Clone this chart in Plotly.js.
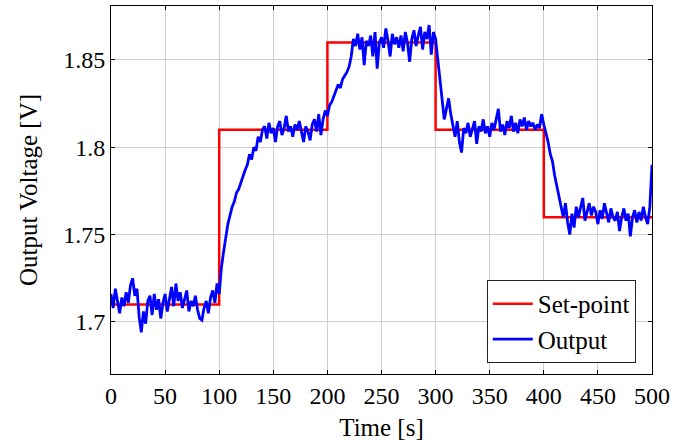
<!DOCTYPE html>
<html>
<head>
<meta charset="utf-8">
<script src="https://cdn.plot.ly/plotly-3.0.1.min.js"></script>
<style>html,body{margin:0;padding:0;background:#fff;}#chart{width:699px;height:444px;}</style>
</head>
<body>
<div id="chart"></div>
<script>
// Set-point steps (time in s, voltage in V)
var setpointTime = [0, 100, 200, 300, 400, 500];
var setpointVolt = [1.71, 1.81, 1.86, 1.81, 1.76, 1.76];

// Measured output, sampled every 2 s from 0 to 500 s
var sampleStep = 2;
var outputVolt = [
  1.716, 1.708, 1.719, 1.712, 1.705, 1.714, 1.709, 1.717, 1.711, 1.721,
  1.725, 1.715, 1.719, 1.703, 1.694, 1.706, 1.699, 1.712, 1.715, 1.704,
  1.716, 1.707, 1.713, 1.702, 1.711, 1.716, 1.706, 1.713, 1.720, 1.709,
  1.722, 1.712, 1.717, 1.708, 1.714, 1.718, 1.706, 1.712, 1.709, 1.715,
  1.707, 1.702, 1.701, 1.708, 1.712, 1.705, 1.714, 1.718, 1.711, 1.722,
  1.716,
  1.731, 1.740, 1.748, 1.756, 1.761, 1.766, 1.769, 1.774, 1.776, 1.780,
  1.783, 1.787, 1.790, 1.796, 1.793, 1.800, 1.798, 1.806, 1.803, 1.810,
  1.812, 1.805, 1.814, 1.808, 1.811, 1.803, 1.812, 1.815, 1.807, 1.811,
  1.818, 1.809, 1.812, 1.806, 1.813, 1.810, 1.815, 1.808, 1.803, 1.812,
  1.809, 1.804, 1.813, 1.816, 1.809, 1.819, 1.807, 1.816, 1.821,
  1.818, 1.824, 1.826, 1.829, 1.832, 1.836, 1.834, 1.839, 1.841, 1.843,
  1.846, 1.852, 1.862, 1.858, 1.865, 1.856, 1.863, 1.847, 1.861, 1.858,
  1.864, 1.852, 1.866, 1.845, 1.860, 1.863, 1.857, 1.868, 1.861, 1.852,
  1.865, 1.859, 1.863, 1.857, 1.864, 1.855, 1.866, 1.860, 1.849, 1.862,
  1.867, 1.858, 1.864, 1.869, 1.856, 1.866, 1.862, 1.870, 1.853, 1.866,
  1.862, 1.850, 1.840, 1.828, 1.816, 1.822, 1.828, 1.819, 1.812, 1.806,
  1.815, 1.803, 1.797, 1.811, 1.808, 1.814, 1.806, 1.811, 1.815, 1.802,
  1.812, 1.809, 1.816, 1.808, 1.812, 1.806, 1.814, 1.810, 1.817, 1.822,
  1.809, 1.813, 1.807, 1.815, 1.811, 1.818, 1.809, 1.814, 1.808, 1.816,
  1.812, 1.817, 1.810, 1.815, 1.812, 1.814, 1.810, 1.813, 1.811, 1.819,
  1.813, 1.808, 1.803, 1.796, 1.792, 1.784, 1.778, 1.770, 1.766, 1.760,
  1.768, 1.757, 1.750, 1.762, 1.754, 1.766, 1.760, 1.765, 1.771, 1.758,
  1.763, 1.768, 1.761, 1.766, 1.763, 1.756, 1.764, 1.759, 1.768, 1.762,
  1.757, 1.765, 1.760, 1.758, 1.763, 1.752, 1.760, 1.765, 1.758, 1.762,
  1.749, 1.760, 1.764, 1.757, 1.763, 1.758, 1.766, 1.760, 1.756, 1.766,
  1.790
];
var outputTime = outputVolt.map(function (_, i) { return i * sampleStep; });

var xTicks = [0, 50, 100, 150, 200, 250, 300, 350, 400, 450, 500];
var yTicks = [1.7, 1.75, 1.8, 1.85];
var yTickText = ['1.7', '1.75', '1.8', '1.85'];

var font = '"Liberation Serif", "Times New Roman", Times, serif';

var traces = [
  {x: setpointTime, y: setpointVolt, mode: 'lines', name: 'Set-point',
   line: {color: '#ff0000', width: 2.5, shape: 'hv'}},
  {x: outputTime, y: outputVolt, mode: 'lines', name: 'Output',
   line: {color: '#0000ff', width: 2.8}}
];

var axisCommon = {
  showgrid: true, gridcolor: '#d0d0d0', gridwidth: 1,
  zeroline: false, showline: true, linecolor: '#000', linewidth: 1,
  mirror: 'ticks', ticks: 'inside', ticklen: 4, tickcolor: '#000',
  tickfont: {family: font, size: 24, color: '#000'}
};

var layout = {
  width: 699, height: 444,
  margin: {l: 111, r: 47, t: 6, b: 70},
  paper_bgcolor: '#fff', plot_bgcolor: '#fff',
  font: {family: font, color: '#000'},
  showlegend: true,
  legend: {x: 0.97, y: 0.03, xanchor: 'right', yanchor: 'bottom',
           bordercolor: '#222', borderwidth: 1, bgcolor: '#fff',
           font: {family: font, size: 25, color: '#000'},
           itemwidth: 40, tracegroupgap: 0},
  xaxis: Object.assign({}, axisCommon, {
    range: [0, 500], tickvals: xTicks, ticktext: xTicks.map(String),
    title: {text: 'Time [s]', font: {family: font, size: 25, color: '#000'}, standoff: 10}
  }),
  yaxis: Object.assign({}, axisCommon, {
    range: [1.6702, 1.8809], tickvals: yTicks, ticktext: yTickText,
    title: {text: 'Output Voltage [V]', font: {family: font, size: 25, color: '#000'}, standoff: 18}
  })
};

Plotly.newPlot('chart', traces, layout, {displayModeBar: false, staticPlot: true});
</script>
</body>
</html>
